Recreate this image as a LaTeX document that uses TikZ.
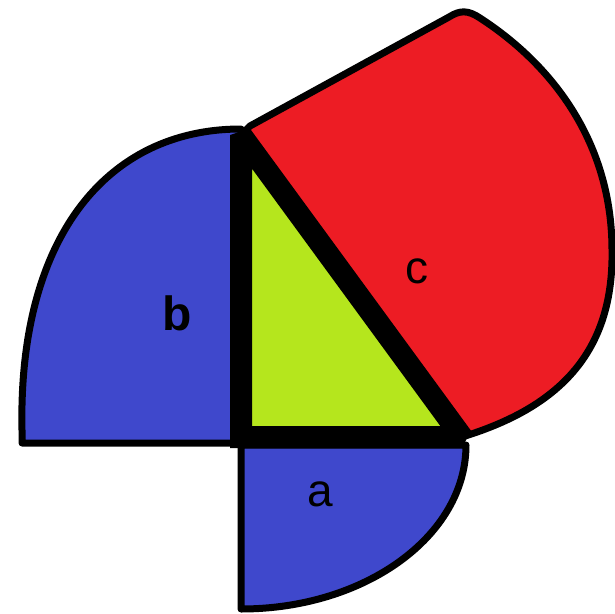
\documentclass[tikz,border=0pt]{standalone}
\usepackage{fontspec}
\setmainfont{Liberation Sans}
\definecolor{pblue}{RGB}{63,72,204}
\definecolor{pred}{RGB}{237,28,36}
\definecolor{plime}{RGB}{181,230,29}
\begin{document}
\begin{tikzpicture}[x=1pt,y=-1pt,
  petal/.style={line width=7pt,draw=black,line join=round},
  tri/.style={line width=22pt,draw=black,fill=plime,line join=miter,miter limit=1.5},
  lab/.style={font=\fontsize{46}{46}\selectfont,inner sep=0pt}]
\useasboundingbox (0,0) rectangle (615,613);
% left blue (b)
\filldraw[petal,fill=pblue] (241,443) -- (22,443) -- (22,430)
  .. controls (18,240) and (105,129) .. (241,129) -- cycle;
% bottom blue (a)
\filldraw[petal,fill=pblue] (241,445) -- (466,445)
  .. controls (466,536) and (365,609) .. (241,609) -- cycle;
% red (c)
\filldraw[petal,fill=pred] (241,135) -- (250,126) -- (449,17)
  .. controls (460,10) and (468,10) .. (480,18)
  .. controls (560,70) and (612,150) .. (612,250)
  .. controls (614,360) and (550,410) .. (462,437) -- cycle;
% triangle
\coordinate (A) at (241,437);
\coordinate (B) at (241,135);
\coordinate (C) at (462,437);
\filldraw[tri] (A) -- (B) -- (C) -- cycle;
% labels
\node[lab,font=\fontsize{48}{48}\selectfont\bfseries] (lb) at (177,313) {b};
\node[lab] (la) at (320,494) {a};
\node[lab] (lc) at (417,271) {c};
\end{tikzpicture}
\end{document}
